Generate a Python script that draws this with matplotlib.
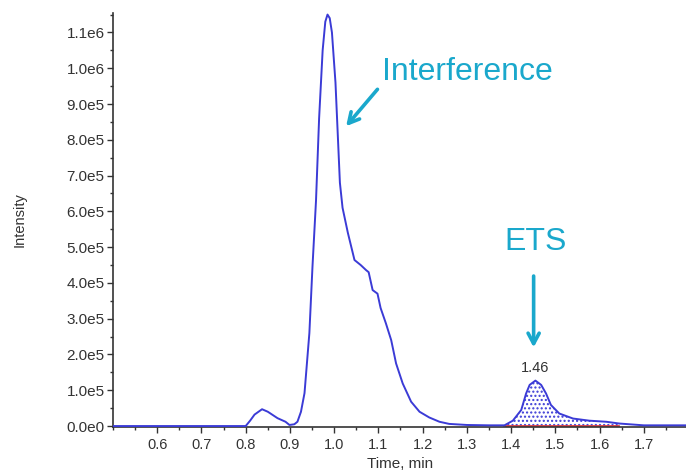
import numpy as np
import matplotlib
matplotlib.use("Agg")
import matplotlib.pyplot as plt
from matplotlib.ticker import MultipleLocator, FuncFormatter

plt.rcParams['font.family'] = ['Liberation Sans', 'DejaVu Sans']

# chromatogram points (time in min, intensity in counts)
time_min = [0.50, 0.80, 0.81, 0.82, 0.837, 0.85, 0.872, 0.89, 0.899, 0.91,
            0.917, 0.925, 0.933, 0.944, 0.951, 0.959, 0.966, 0.974, 0.980, 0.985,
            0.990, 0.995, 1.003, 1.008, 1.013, 1.019, 1.031, 1.046, 1.060, 1.072,
            1.078, 1.087, 1.098, 1.105, 1.117, 1.129, 1.140, 1.155, 1.174, 1.193,
            1.215, 1.238, 1.26, 1.30, 1.35, 1.385, 1.404, 1.423, 1.434, 1.442,
            1.455, 1.468, 1.479, 1.490, 1.509, 1.540, 1.577, 1.615, 1.645, 1.70,
            1.795]
intensity = [0, 0, 0.15e5, 0.32e5, 0.47e5, 0.40e5, 0.22e5, 0.12e5, 0.03e5, 0.05e5,
             0.12e5, 0.4e5, 0.92e5, 2.6e5, 4.45e5, 6.3e5, 8.6e5, 10.5e5, 11.3e5, 11.5e5,
             11.4e5, 11.0e5, 9.6e5, 8.2e5, 6.8e5, 6.1e5, 5.4e5, 4.64e5, 4.5e5, 4.36e5,
             4.3e5, 3.8e5, 3.7e5, 3.3e5, 2.87e5, 2.4e5, 1.75e5, 1.19e5, 0.68e5, 0.40e5,
             0.24e5, 0.12e5, 0.06e5, 0.03e5, 0.02e5, 0.02e5, 0.15e5, 0.45e5, 0.91e5, 1.15e5,
             1.27e5, 1.15e5, 0.91e5, 0.59e5, 0.35e5, 0.21e5, 0.15e5, 0.12e5, 0.07e5, 0.02e5,
             0.02e5]

# integrated ETS peak
peak_start = 1.385
peak_end = 1.645
peak_rt = 1.455
peak_label = "1.46"

blue = "#3b3bd6"
cyan = "#1aa8cc"
grey = "#333333"

t = np.array(time_min)
y = np.array(intensity)

fig = plt.figure(figsize=(6.86, 4.73), dpi=100)
ax = fig.add_axes([0.1647, 0.097, 0.835, 0.876])

ax.plot(t, y, color=blue, lw=1.4, zorder=3)

mask = (t >= peak_start) & (t <= peak_end)
ax.fill_between(t[mask], 0.01e5, y[mask], facecolor="none", edgecolor=blue,
                hatch="....", linewidth=0, zorder=2)
ax.plot([peak_start, peak_end], [0.01e5, 0.01e5], color="#e03030", lw=1.2, zorder=2)
ax.text(peak_rt, 1.42e5, peak_label, ha="center", va="bottom", fontsize=10.5, color=grey)

# annotations
ax.annotate("", xy=(1.023, 8.32e5), xytext=(1.102, 9.47e5),
            arrowprops=dict(arrowstyle="->,head_length=0.75,head_width=0.4", color=cyan, lw=2.6))
ax.text(1.109, 9.66e5, "Interference", color=cyan, fontsize=23, ha="left", va="baseline")
ax.annotate("", xy=(1.451, 2.12e5), xytext=(1.451, 4.27e5),
            arrowprops=dict(arrowstyle="->,head_length=0.75,head_width=0.4", color=cyan, lw=2.6))
ax.text(1.385, 4.92e5, "ETS", color=cyan, fontsize=23, ha="left", va="baseline")

ax.set_xlim(0.5, 1.795)
ax.set_ylim(-0.03e5, 1.155e6)

ax.xaxis.set_major_locator(MultipleLocator(0.1))
ax.xaxis.set_minor_locator(MultipleLocator(0.05))
ax.yaxis.set_major_locator(MultipleLocator(1e5))
ax.yaxis.set_minor_locator(MultipleLocator(0.5e5))


def sci_fmt(v, pos):
    if abs(v) < 1:
        return "0.0e0"
    e = int(np.floor(np.log10(abs(v)) + 1e-9))
    return "%.1fe%d" % (v / 10 ** e, e)


ax.yaxis.set_major_formatter(FuncFormatter(sci_fmt))
ax.xaxis.set_major_formatter(FuncFormatter(lambda v, p: "%.1f" % v))
ax.set_xticks([0.6, 0.7, 0.8, 0.9, 1.0, 1.1, 1.2, 1.3, 1.4, 1.5, 1.6, 1.7])

ax.tick_params(which="major", length=4, width=1, colors=grey, direction="out")
ax.tick_params(axis="x", labelsize=10.5)
ax.tick_params(axis="y", labelsize=11, pad=2)
ax.tick_params(which="minor", length=2.5, width=1, colors=grey, direction="out")

for s in ["top", "right"]:
    ax.spines[s].set_visible(False)
for s in ["left", "bottom"]:
    ax.spines[s].set_color(grey)
    ax.spines[s].set_linewidth(1.2)

ax.set_xlabel("Time, min", fontsize=11, color=grey)
ax.xaxis.set_label_coords(0.502, -0.072)
ax.set_ylabel("Intensity", fontsize=10.5, color=grey)
ax.yaxis.set_label_coords(-0.15, 0.5)

fig.savefig("out.png", dpi=100)
